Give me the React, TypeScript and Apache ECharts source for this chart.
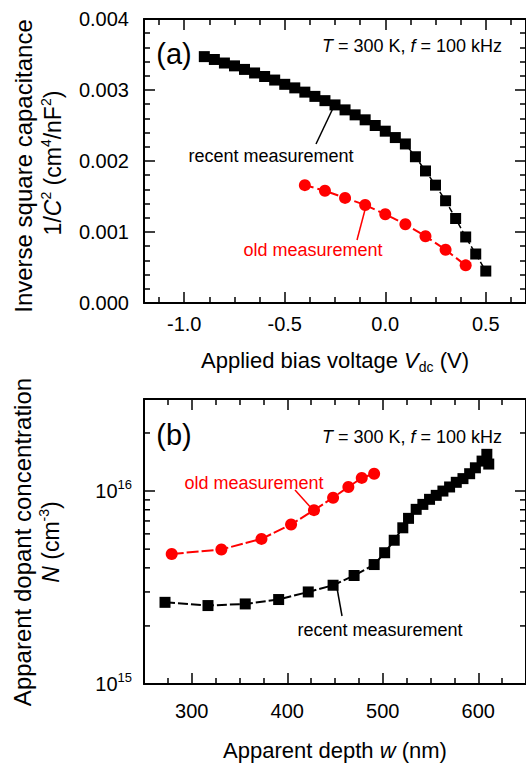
import React, { useEffect, useRef } from 'react';
import * as echarts from 'echarts';

// ---------- data ----------
const biasRecent = [-0.9, -0.85, -0.8, -0.75, -0.7, -0.65, -0.6, -0.55, -0.5, -0.45, -0.4, -0.35, -0.3, -0.25, -0.2, -0.15, -0.1, -0.05, 0.0, 0.05, 0.1, 0.15, 0.2, 0.25, 0.3, 0.35, 0.4, 0.45, 0.5];
const invC2Recent = [0.00347, 0.00343, 0.00338, 0.00334, 0.00329, 0.00324, 0.00319, 0.00314, 0.00308, 0.00303, 0.00297, 0.00291, 0.00285, 0.00279, 0.00272, 0.00265, 0.00258, 0.0025, 0.00242, 0.00233, 0.00224, 0.00206, 0.00186, 0.00166, 0.00144, 0.00119, 0.00093, 0.00069, 0.00045];
const biasOld = [-0.4, -0.3, -0.2, -0.1, 0.0, 0.1, 0.2, 0.3, 0.4];
const invC2Old = [0.00166, 0.00158, 0.00148, 0.00138, 0.00125, 0.00111, 0.00094, 0.00075, 0.00053];

const depthRecent = [272, 317, 356, 391, 422, 448, 470, 491, 502, 512, 521, 527, 535, 542, 549, 556, 563, 570, 577, 584, 591, 597, 604, 609, 611];
const dopingRecent = [2.65e15, 2.55e15, 2.6e15, 2.74e15, 3.0e15, 3.25e15, 3.65e15, 4.16e15, 4.79e15, 5.56e15, 6.45e15, 7.22e15, 8.04e15, 8.53e15, 9.06e15, 9.5e15, 1.0e16, 1.05e16, 1.11e16, 1.16e16, 1.23e16, 1.32e16, 1.43e16, 1.55e16, 1.38e16];
const depthOld = [279, 331, 373, 404, 428, 448, 464, 478, 491];
const dopingOld = [4.72e15, 4.98e15, 5.65e15, 6.71e15, 7.96e15, 9.24e15, 1.05e16, 1.17e16, 1.23e16];

const biasRange = [-1.2, 0.7];
const invC2Range = [0, 0.004];
const depthRange = [250, 650];
const dopingRange = [1e15, 3e16];
const logMinorTicks = [2e15, 3e15, 4e15, 5e15, 6e15, 7e15, 8e15, 9e15, 2e16];

const FONT = '"Liberation Sans", Arial, Helvetica, sans-serif';
const RED = '#ff0000';

const lineS = { color: '#000', width: 2 };
const tickS = { color: '#000', width: 1.5 };

function makeAxis(opts: any) {
  const { labels, position, gridIndex, min, max, type, splitNumber, minorSplit, margin, formatter, rich, showEnds } = opts;
  const ax: any = {
    type: type || 'value',
    gridIndex,
    position,
    min,
    max,
    axisLine: { show: true, onZero: false, lineStyle: lineS },
    axisTick: { show: true, inside: true, length: 11, lineStyle: tickS },
    splitLine: { show: false },
    axisLabel: {
      show: !!labels,
      margin: margin || 8,
      fontSize: 20,
      lineHeight: 26,
      color: '#000',
      fontFamily: FONT,
      showMinLabel: !!showEnds,
      showMaxLabel: !!showEnds,
      hideOverlap: false,
      formatter,
      rich,
    },
  };
  if (type === 'log') {
    ax.logBase = 10;
  } else {
    ax.splitNumber = splitNumber;
    ax.minorTick = { show: true, splitNumber: minorSplit, length: 6, lineStyle: tickS };
  }
  return ax;
}

function richG(size: number, color = '#000') {
  return {
    i: { fontStyle: 'italic', fontSize: size, fontFamily: FONT, fill: color },
    sup: { fontSize: Math.round(size * 0.62), fontFamily: FONT, fill: color, verticalAlign: 'top', lineHeight: Math.round(size * 0.62) },
    sub: { fontSize: Math.round(size * 0.62), fontFamily: FONT, fill: color, verticalAlign: 'bottom', lineHeight: Math.round(size * 0.62) },
  };
}

function txt(x: number, y: number, text: string, size: number, o: any = {}) {
  const color = o.color || '#000';
  const align = o.align || 'center';
  return {
    type: 'text',
    x,
    y,
    rotation: o.rot || 0,
    z: 100,
    style: {
      text,
      fontSize: size,
      fontFamily: FONT,
      fill: color,
      align,
      textAlign: align,
      verticalAlign: 'middle',
      textVerticalAlign: 'middle',
      lineHeight: Math.round(size * 1.25),
      rich: richG(size, color),
    },
  };
}

function ln(x1: number, y1: number, x2: number, y2: number, color = '#000') {
  return { type: 'line', z: 100, shape: { x1, y1, x2, y2 }, style: { stroke: color, lineWidth: 1.5 } };
}

export default function App() {
  const ref = useRef<HTMLDivElement>(null);
  useEffect(() => {
    if (!ref.current) return;
    const chart = echarts.init(ref.current, undefined, { renderer: 'svg' });
    const logFmt = (v: number) => {
      const e = Math.log10(v);
      return Math.abs(e - Math.round(e)) < 1e-6 ? `10{sup|${Math.round(e)}}` : '';
    };
    const axisRich = { sup: { fontSize: 13, lineHeight: 13, verticalAlign: 'top', color: '#000', fontFamily: FONT } };

    const option: any = {
      animation: false,
      backgroundColor: '#fff',
      grid: [
        { left: 144, top: 19, width: 382, height: 284, containLabel: false },
        { left: 144, top: 399, width: 382, height: 285, containLabel: false },
      ],
      xAxis: [
        makeAxis({ labels: true, position: 'bottom', gridIndex: 0, min: biasRange[0], max: biasRange[1], splitNumber: 4, minorSplit: 4, margin: 8, formatter: (v: number) => v.toFixed(1) }),
        makeAxis({ labels: false, position: 'top', gridIndex: 0, min: biasRange[0], max: biasRange[1], splitNumber: 4, minorSplit: 4 }),
        makeAxis({ labels: true, position: 'bottom', gridIndex: 1, min: depthRange[0], max: depthRange[1], splitNumber: 4, minorSplit: 4, margin: 14, formatter: (v: number) => String(Math.round(v)) }),
        makeAxis({ labels: false, position: 'top', gridIndex: 1, min: depthRange[0], max: depthRange[1], splitNumber: 4, minorSplit: 4 }),
      ],
      yAxis: [
        makeAxis({ labels: true, showEnds: true, position: 'left', gridIndex: 0, min: invC2Range[0], max: invC2Range[1], splitNumber: 4, minorSplit: 5, margin: 15, formatter: (v: number) => v.toFixed(3) }),
        makeAxis({ labels: false, position: 'right', gridIndex: 0, min: invC2Range[0], max: invC2Range[1], splitNumber: 4, minorSplit: 5 }),
        makeAxis({ labels: true, showEnds: true, type: 'log', position: 'left', gridIndex: 1, min: dopingRange[0], max: dopingRange[1], margin: 12, formatter: logFmt, rich: axisRich }),
        makeAxis({ labels: false, type: 'log', position: 'right', gridIndex: 1, min: dopingRange[0], max: dopingRange[1] }),
      ],
      series: [
        {
          name: 'recent measurement (a)',
          type: 'line',
          xAxisIndex: 0,
          yAxisIndex: 0,
          data: biasRecent.map((v, i) => [v, invC2Recent[i]]),
          symbol: 'rect',
          symbolSize: 11,
          itemStyle: { color: '#000' },
          lineStyle: { color: '#000', width: 1.5, type: [6, 3] },
        },
        {
          name: 'old measurement (a)',
          type: 'line',
          xAxisIndex: 0,
          yAxisIndex: 0,
          data: biasOld.map((v, i) => [v, invC2Old[i]]),
          symbol: 'circle',
          symbolSize: 12,
          itemStyle: { color: RED },
          lineStyle: { color: RED, width: 2, type: [9, 4] },
        },
        {
          name: 'recent measurement (b)',
          type: 'line',
          xAxisIndex: 2,
          yAxisIndex: 2,
          data: depthRecent.map((v, i) => [v, dopingRecent[i]]),
          symbol: 'rect',
          symbolSize: 11,
          itemStyle: { color: '#000' },
          lineStyle: { color: '#000', width: 2, type: [10, 3] },
        },
        {
          name: 'old measurement (b)',
          type: 'line',
          xAxisIndex: 2,
          yAxisIndex: 2,
          data: depthOld.map((v, i) => [v, dopingOld[i]]),
          symbol: 'circle',
          symbolSize: 12,
          itemStyle: { color: RED },
          lineStyle: { color: RED, width: 2, type: [12, 3] },
        },
        {
          name: 'log minor ticks',
          type: 'custom',
          xAxisIndex: 2,
          yAxisIndex: 2,
          silent: true,
          data: logMinorTicks.map((v) => [depthRange[0], v]),
          renderItem: (params: any, api: any) => {
            const y = api.coord([depthRange[0], api.value(1)])[1];
            const cs = params.coordSys;
            return {
              type: 'group',
              children: [
                { type: 'line', shape: { x1: cs.x, y1: y, x2: cs.x + 6, y2: y }, style: { stroke: '#000', lineWidth: 1.5 } },
                { type: 'line', shape: { x1: cs.x + cs.width - 6, y1: y, x2: cs.x + cs.width, y2: y }, style: { stroke: '#000', lineWidth: 1.5 } },
              ],
            };
          },
        },
      ],
      graphic: [
        txt(23, 166, 'Inverse square capacitance', 24, { rot: Math.PI / 2 }),
        txt(53, 163, '1/{i|C}{sup|2} (cm{sup|4}/nF{sup|2})', 23, { rot: Math.PI / 2 }),
        txt(335, 360, 'Applied bias voltage {i|V}{sub|dc} (V)', 22),
        txt(22, 542, 'Apparent dopant concentration', 24, { rot: Math.PI / 2 }),
        txt(51, 542, '{i|N} (cm{sup|-3})', 23, { rot: Math.PI / 2 }),
        txt(335, 750, 'Apparent depth {i|w} (nm)', 22),
        txt(174, 54, '(a)', 29),
        txt(174, 435, '(b)', 29),
        txt(502, 46, '{i|T} = 300 K, {i|f} = 100 kHz', 18, { align: 'right' }),
        txt(502, 437, '{i|T} = 300 K, {i|f} = 100 kHz', 18, { align: 'right' }),
        txt(271, 156, 'recent measurement', 18),
        txt(313, 250, 'old measurement', 18, { color: RED }),
        txt(254, 483, 'old measurement', 18, { color: RED }),
        txt(380, 630, 'recent measurement', 18),
        ln(335, 104, 316, 144),
        ln(366, 206, 357, 240, RED),
        ln(295, 490, 313, 510, RED),
        ln(337, 588, 342, 616),
      ],
    };
    chart.setOption(option);
    return () => chart.dispose();
  }, []);
  return <div ref={ref} style={{ position: 'fixed', left: 0, top: 0, width: 526, height: 765, background: '#fff' }} />;
}
